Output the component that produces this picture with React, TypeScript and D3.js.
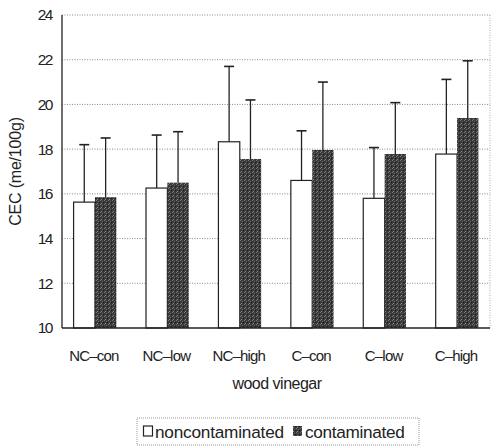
import React from "react";
import * as d3 from "d3";

const categories = ["NC-con", "NC-low", "NC-high", "C-con", "C-low", "C-high"];
const seriesNames = ["noncontaminated", "contaminated"];
const noncontaminated = [15.63, 16.26, 18.33, 16.6, 15.8, 17.78];
const noncontaminatedErrTop = [18.2, 18.63, 21.7, 18.82, 18.07, 21.12];
const contaminated = [15.85, 16.5, 17.56, 17.96, 17.78, 19.39];
const contaminatedErrTop = [18.5, 18.78, 20.2, 21.0, 20.08, 21.95];
const yTicks = [10, 12, 14, 16, 18, 20, 22, 24];

const W = 491, H = 447;
const left = 62, right = 490, top = 15, bottom = 328;
const font = "'Liberation Sans', Arial, sans-serif";

export default function App() {
  const x = d3.scaleBand<string>().domain(categories).range([left, right]).paddingInner(0.41).paddingOuter(0.16);
  const x1 = d3.scaleBand<string>().domain(seriesNames).range([0, x.bandwidth()]);
  const y = d3.scaleLinear().domain([10, 24]).range([bottom, top]);
  const series = [
    { name: seriesNames[0], vals: noncontaminated, err: noncontaminatedErrTop, fill: "#ffffff" },
    { name: seriesNames[1], vals: contaminated, err: contaminatedErrTop, fill: "#363636" },
  ];
  return (
    <svg width={W} height={H} style={{ position: "absolute", left: 0, top: 0 }} fontFamily={font}>
      <defs>
        <pattern id="noise" width="4" height="4" patternUnits="userSpaceOnUse">
          <rect width="4" height="4" fill="#3a3a3a" />
          <rect x="0" y="0" width="1" height="1" fill="#777" />
          <rect x="2" y="1" width="1" height="1" fill="#666" />
          <rect x="1" y="3" width="1" height="1" fill="#888" />
          <rect x="3" y="2" width="1" height="1" fill="#1a1a1a" />
        </pattern>
      </defs>
      {yTicks.filter(t => t > 10).map(t => (
        <line key={t} x1={left} x2={right} y1={y(t)} y2={y(t)} stroke="#888" strokeWidth={1} strokeDasharray="1,1.5" />
      ))}
      <line x1={right} x2={right} y1={top} y2={bottom} stroke="#aaa" strokeDasharray="1,1.5" />
      {categories.map((c, i) => (
        <g key={c}>
          {series.map((s, j) => {
            const bx = (x(c) as number) + (x1(s.name) as number);
            const bw = x1.bandwidth();
            const cx = bx + bw / 2;
            return (
              <g key={s.name}>
                <line x1={cx} x2={cx} y1={y(s.vals[i])} y2={y(s.err[i])} stroke="#222" strokeWidth={1.3} />
                <line x1={cx - 5} x2={cx + 5} y1={y(s.err[i])} y2={y(s.err[i])} stroke="#222" strokeWidth={1.6} />
                <rect x={bx} y={y(s.vals[i])} width={bw} height={bottom - y(s.vals[i])}
                  fill={j === 0 ? s.fill : "url(#noise)"} stroke="#222" strokeWidth={j === 0 ? 1.2 : 0} />
              </g>
            );
          })}
        </g>
      ))}
      <line x1={left} x2={left} y1={top} y2={bottom} stroke="#222" strokeWidth={1.3} />
      <line x1={left} x2={right} y1={bottom} y2={bottom} stroke="#222" strokeWidth={1.3} />
      {yTicks.map(t => (
        <text key={t} x={52} y={y(t)} dy="0.35em" textAnchor="end" fontSize={15.5} fill="#222" letterSpacing={-1.5}>{t}</text>
      ))}
      <text transform={`translate(21,${(top + bottom) / 2}) rotate(-90)`} textAnchor="middle" fontSize={16} fill="#222" letterSpacing={-0.2}>CEC (me/100g)</text>
      {categories.map(c => (
        <text key={c} x={(x(c) as number) + x.bandwidth() / 2 - 1} y={356} dy="0.35em" textAnchor="middle" fontSize={15} fill="#222" letterSpacing={-0.8}>
          {c.replace("-", "\u2013")}
        </text>
      ))}
      <text x={277} y={383} dy="0.35em" textAnchor="middle" fontSize={16} fill="#222" letterSpacing={-0.5}>wood vinegar</text>
      <rect x={137} y={418} width={282} height={27} fill="none" stroke="#999" strokeDasharray="1,1" />
      <rect x={143.5} y={426} width={9} height={10} fill="#fff" stroke="#222" strokeWidth={1.2} />
      <text x={155} y={432} dy="0.35em" fontSize={17.2} fill="#222" letterSpacing={-0.2}>noncontaminated</text>
      <rect x={293} y={426} width={9} height={10} fill="url(#noise)" />
      <text x={305} y={432} dy="0.35em" fontSize={17.2} fill="#222" letterSpacing={-0.3}>contaminated</text>
    </svg>
  );
}
